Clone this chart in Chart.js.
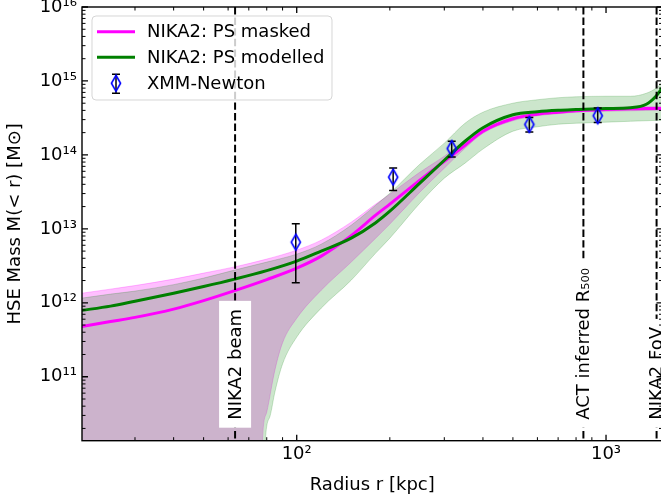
<!DOCTYPE html>
<html><head><meta charset="utf-8">
<script src="https://cdn.jsdelivr.net/npm/chart.js@4.4.1/dist/chart.umd.min.js"></script>
<style>html,body{margin:0;padding:0;background:#fff;overflow:hidden;} #wrap{width:661px;height:501px;position:relative;overflow:hidden;}</style>
</head><body><div id="wrap"><canvas id="c" width="664" height="501" style="width:664px;height:501px"></canvas></div>
<script>
// ---- data ----
const radii = [20,25,30,40,50,63,80,100,120,150,180,200,250,300,350,400,500,600,700,800,1000,1200,1350,1450,1500,1530];
const massModelled = [7.85e11,9.02e11,1.05e12,1.35e12,1.66e12,2.09e12,2.72e12,3.66e12,5.00e12,7.48e12,1.21e13,1.73e13,4.15e13,8.47e13,1.53e14,2.33e14,3.49e14,3.84e14,4.02e14,4.11e14,4.24e14,4.35e14,4.84e14,6.21e14,7.48e14,8.45e14];
const massMasked = [4.74e11,5.57e11,6.35e11,8.22e11,1.07e12,1.46e12,2.06e12,2.94e12,4.28e12,8.1e12,1.53e13,2.16e13,4.55e13,8.22e13,1.35e14,2.09e14,3.08e14,3.55e14,3.78e14,3.95e14,4.11e14,4.21e14,4.24e14,4.24e14,4.24e14,4.24e14];
const modelledUpper = [1.15e12,1.31e12,1.44e12,1.76e12,2.16e12,2.77e12,3.55e12,4.55e12,6.21e12,1.12e13,2.09e13,3.03e13,7.48e13,1.44e14,2.68e14,3.78e14,5.00e14,5.57e14,5.93e14,6.11e14,6.21e14,6.21e14,6.82e14,7.96e14,9.02e14,9.9e14];
const maskedUpper = [1.34e12,1.53e12,1.71e12,2.09e12,2.52e12,3.06e12,3.90e12,5.15e12,7.03e12,1.23e13,2.16e13,2.94e13,5.83e13,9.59e13,1.58e14,2.30e14,3.28e14,3.78e14,4.02e14,4.19e14,4.35e14,4.44e14,4.47e14,4.48e14,4.48e14,4.48e14];
const modelledLowerRadii = [20,77,79,82,85,90,100,120,150,180,200,250,300,350,400,500,600,700,800,1000,1200,1500,1530];
const modelledLower = [1e8,1e8,1.19e10,2.94e10,6.21e10,1.49e11,3.44e11,8.47e11,2.02e12,4.70e12,7.48e12,2.22e13,4.84e13,7.73e13,1.20e14,2.09e14,2.40e14,2.60e14,2.68e14,2.77e14,2.85e14,2.94e14,2.95e14];
const maskedLowerRadii = [20,75.5,77.5,80,85,90,100,120,150,180,200,250,300,350,400,500,600,700,800,1000,1200,1500,1530];
const maskedLower = [1e8,1e8,1.40e10,3.33e10,1.23e11,2.88e11,6.17e11,1.48e12,3.55e12,7.48e12,1.16e13,3.13e13,6.61e13,1.23e14,1.96e14,2.90e14,3.39e14,3.61e14,3.78e14,3.90e14,3.95e14,4.02e14,4.02e14];
const xmmRadius = [99.3,205,317,565,940];
const xmmMass = [6.6e12,5.0e13,1.22e14,2.58e14,3.39e14];
const xmmLow = [1.86e12,3.3e13,9.4e13,2.04e14,2.75e14];
const xmmHigh = [1.17e13,6.67e13,1.53e14,3.21e14,4.3e14];
const markerRadius = [63.2,845,1457];
const markerLabels = ['NIKA2 beam','ACT inferred R\u2085\u2080\u2080','NIKA2 FoV'];
const legendLabels = ['NIKA2: PS masked','NIKA2: PS modelled','XMM-Newton'];
const xTickValues = [100,1000];
const xTickLabels = ['10\u00b2','10\u00b3'];
const xMinorTicks = [30,40,50,60,70,80,90,200,300,400,500,600,700,800,900];
const yTickValues = [1e11,1e12,1e13,1e14,1e15,1e16];
const yTickLabels = ['10\u00b9\u00b9','10\u00b9\u00b2','10\u00b9\u00b3','10\u00b9\u2074','10\u00b9\u2075','10\u00b9\u2076'];
const yMinorMantissa = [2,3,4,5,6,7,8,9];
const yMinorDecades = [1e10,1e11,1e12,1e13,1e14,1e15];

const FONT = '"DejaVu Sans", sans-serif';
const FS = 18;
const GREEN = '#008000', MAGENTA = '#ff00ff', BLUE = '#0000ff';
const GREEN_BAND = 'rgba(0,128,0,0.2)', PINK_BAND = 'rgba(255,0,255,0.25)';

const yMinorTicks = [];
yMinorDecades.forEach(d => yMinorMantissa.forEach(m => yMinorTicks.push(m * d)));

function pts(xs, ys) { return xs.map((x, i) => ({x: x, y: ys[i]})); }

function makeDiamond() {
  const c = document.createElement('canvas');
  c.width = 14; c.height = 20;
  const g = c.getContext('2d');
  g.strokeStyle = BLUE; g.lineWidth = 1.6;
  g.beginPath(); g.moveTo(7, 2); g.lineTo(11.6, 10); g.lineTo(7, 18); g.lineTo(2.4, 10); g.closePath(); g.stroke();
  return c;
}
const diamond = makeDiamond();

const overlay = {
  id: 'overlay',
  beforeDatasetDraw(chart, args) {
    if (args.index !== 0) return;
    const ctx = chart.ctx, xs = chart.scales.x, ys = chart.scales.y;
    ctx.save();
    ctx.strokeStyle = '#000'; ctx.lineWidth = 1.5;
    for (let i = 0; i < xmmRadius.length; i++) {
      const px = xs.getPixelForValue(xmmRadius[i]);
      const y1 = ys.getPixelForValue(xmmLow[i]), y2 = ys.getPixelForValue(xmmHigh[i]);
      ctx.beginPath();
      ctx.moveTo(px, y1); ctx.lineTo(px, y2);
      ctx.moveTo(px - 4, y1); ctx.lineTo(px + 4, y1);
      ctx.moveTo(px - 4, y2); ctx.lineTo(px + 4, y2);
      ctx.stroke();
    }
    ctx.restore();
  },
  afterDatasetsDraw(chart) {
    const ctx = chart.ctx, xs = chart.scales.x, a = chart.chartArea;
    ctx.save();
    ctx.beginPath(); ctx.rect(a.left, a.top, a.right - a.left, a.bottom - a.top); ctx.clip();
    ctx.strokeStyle = '#000'; ctx.lineWidth = 2; ctx.setLineDash([7.4, 3.2]);
    markerRadius.forEach(r => {
      const px = xs.getPixelForValue(r);
      ctx.beginPath(); ctx.moveTo(px, a.top); ctx.lineTo(px, a.bottom); ctx.stroke();
    });
    ctx.setLineDash([]);
    ctx.font = FS + 'px ' + FONT;
    markerRadius.forEach((r, i) => {
      const px = xs.getPixelForValue(r);
      const w = ctx.measureText(markerLabels[i]).width;
      const y0 = a.bottom - 21;
      ctx.fillStyle = '#fff';
      ctx.fillRect(px - 16, y0 - w - 8, 32, w + 16);
      ctx.save();
      ctx.translate(px, y0); ctx.rotate(-Math.PI / 2);
      ctx.fillStyle = '#000'; ctx.textAlign = 'left'; ctx.textBaseline = 'middle';
      ctx.fillText(markerLabels[i], 0, 1);
      ctx.restore();
    });
    ctx.restore();
  },
  afterDraw(chart) {
    const ctx = chart.ctx, xs = chart.scales.x, ys = chart.scales.y, a = chart.chartArea;
    ctx.save();
    ctx.strokeStyle = '#000';
    xs.ticks.forEach(t => {
      const major = xTickValues.includes(t.value);
      const L = major ? 6 : 3.5;
      ctx.lineWidth = major ? 1.3 : 1;
      const px = xs.getPixelForValue(t.value);
      ctx.beginPath();
      ctx.moveTo(px, a.bottom); ctx.lineTo(px, a.bottom - L);
      ctx.moveTo(px, a.top); ctx.lineTo(px, a.top + L);
      ctx.stroke();
    });
    ys.ticks.forEach(t => {
      const major = yTickValues.includes(t.value);
      const L = major ? 6 : 3.5;
      ctx.lineWidth = major ? 1.3 : 1;
      const py = ys.getPixelForValue(t.value);
      ctx.beginPath();
      ctx.moveTo(a.left, py); ctx.lineTo(a.left + L, py);
      ctx.moveTo(a.right, py); ctx.lineTo(a.right - L, py);
      ctx.stroke();
    });
    ctx.lineWidth = 1.4;
    ctx.strokeRect(a.left, a.top, a.right - a.left, a.bottom - a.top);
    // legend
    const lx = a.left + 10, ly = a.top + 9, lw = 240, lh = 84;
    ctx.beginPath();
    ctx.roundRect(lx, ly, lw, lh, 4);
    ctx.fillStyle = 'rgba(255,255,255,0.8)'; ctx.fill();
    ctx.strokeStyle = 'rgba(204,204,204,0.8)'; ctx.lineWidth = 1; ctx.stroke();
    const rows = [ly + 15.7, ly + 41.3, ly + 67.3];
    ctx.lineWidth = 3;
    ctx.strokeStyle = MAGENTA;
    ctx.beginPath(); ctx.moveTo(lx + 5, rows[0]); ctx.lineTo(lx + 43, rows[0]); ctx.stroke();
    ctx.strokeStyle = GREEN;
    ctx.beginPath(); ctx.moveTo(lx + 5, rows[1]); ctx.lineTo(lx + 43, rows[1]); ctx.stroke();
    const dx = lx + 24;
    ctx.strokeStyle = '#000'; ctx.lineWidth = 1.5;
    ctx.beginPath();
    ctx.moveTo(dx, rows[2] - 9); ctx.lineTo(dx, rows[2] + 10);
    ctx.moveTo(dx - 4, rows[2] - 9); ctx.lineTo(dx + 4, rows[2] - 9);
    ctx.moveTo(dx - 4, rows[2] + 10); ctx.lineTo(dx + 4, rows[2] + 10);
    ctx.stroke();
    ctx.drawImage(diamond, dx - diamond.width / 2, rows[2] - diamond.height / 2);
    ctx.fillStyle = '#000'; ctx.font = FS + 'px ' + FONT;
    ctx.textAlign = 'left'; ctx.textBaseline = 'middle';
    legendLabels.forEach((s, i) => ctx.fillText(s, lx + 55, rows[i] + 1));
    ctx.restore();
  }
};

const lineCommon = {showLine: true, pointRadius: 0, cubicInterpolationMode: 'monotone'};

new Chart(document.getElementById('c'), {
  type: 'scatter',
  data: {
    datasets: [
      {label: 'XMM-Newton', data: pts(xmmRadius, xmmMass), showLine: false, pointStyle: diamond, pointRadius: 8, order: 0},
      Object.assign({label: 'NIKA2: PS modelled', data: pts(radii, massModelled), borderColor: GREEN, borderWidth: 3, fill: false, order: 1}, lineCommon),
      Object.assign({label: 'NIKA2: PS masked', data: pts(radii, massMasked), borderColor: MAGENTA, borderWidth: 3, fill: false, order: 2}, lineCommon),
      Object.assign({label: 'modelled upper', data: pts(radii, modelledUpper), borderColor: GREEN_BAND, borderWidth: 1, backgroundColor: GREEN_BAND, fill: 4, order: 3}, lineCommon),
      Object.assign({label: 'modelled lower', data: pts(modelledLowerRadii, modelledLower), borderColor: GREEN_BAND, borderWidth: 1, fill: false, order: 4}, lineCommon),
      Object.assign({label: 'masked upper', data: pts(radii, maskedUpper), borderColor: PINK_BAND, borderWidth: 1, backgroundColor: PINK_BAND, fill: 6, order: 5}, lineCommon),
      Object.assign({label: 'masked lower', data: pts(maskedLowerRadii, maskedLower), borderColor: PINK_BAND, borderWidth: 1, fill: false, order: 6}, lineCommon)
    ]
  },
  options: {
    responsive: false,
    devicePixelRatio: 1,
    animation: false,
    layout: {padding: {left: 0, top: 7, right: 1.5, bottom: 0}, autoPadding: false},
    plugins: {legend: {display: false}, tooltip: {enabled: false}},
    scales: {
      x: {
        type: 'logarithmic', position: 'bottom', min: 20.22, max: 1522.6,
        afterFit: s => { s.height = 60.3; s.paddingLeft = 0; s.paddingRight = 0; s.paddingTop = 0; s.paddingBottom = 0; },
        afterBuildTicks: s => { s.ticks = xMinorTicks.concat(xTickValues).sort((p, q) => p - q).map(v => ({value: v})); },
        grid: {display: false, drawTicks: false},
        border: {display: false},
        ticks: {
          autoSkip: false, maxRotation: 0, padding: 3, color: '#000',
          font: {family: FONT, size: FS},
          callback: v => { const i = xTickValues.indexOf(v); return i >= 0 ? xTickLabels[i] : ''; }
        },
        title: {display: true, text: 'Radius r [kpc]', color: '#000', font: {family: FONT, size: FS}, padding: {top: 0, bottom: 5}}
      },
      y: {
        type: 'logarithmic', position: 'left', min: 1.365e10, max: 1e16,
        afterFit: s => { s.width = 82; s.paddingLeft = 0; s.paddingRight = 0; s.paddingTop = 0; s.paddingBottom = 0; },
        afterBuildTicks: s => { s.ticks = yMinorTicks.concat(yTickValues).sort((p, q) => p - q).map(v => ({value: v})); },
        grid: {display: false, drawTicks: false},
        border: {display: false},
        ticks: {
          autoSkip: false, padding: 5, color: '#000',
          font: {family: FONT, size: FS},
          callback: v => { const i = yTickValues.indexOf(v); return i >= 0 ? yTickLabels[i] : ''; }
        },
        title: {display: true, text: 'HSE Mass M(< r) [M\u2299]', color: '#000', font: {family: FONT, size: FS}, padding: {top: 5, bottom: 0}}
      }
    }
  },
  plugins: [overlay]
});
</script>
</body></html>
